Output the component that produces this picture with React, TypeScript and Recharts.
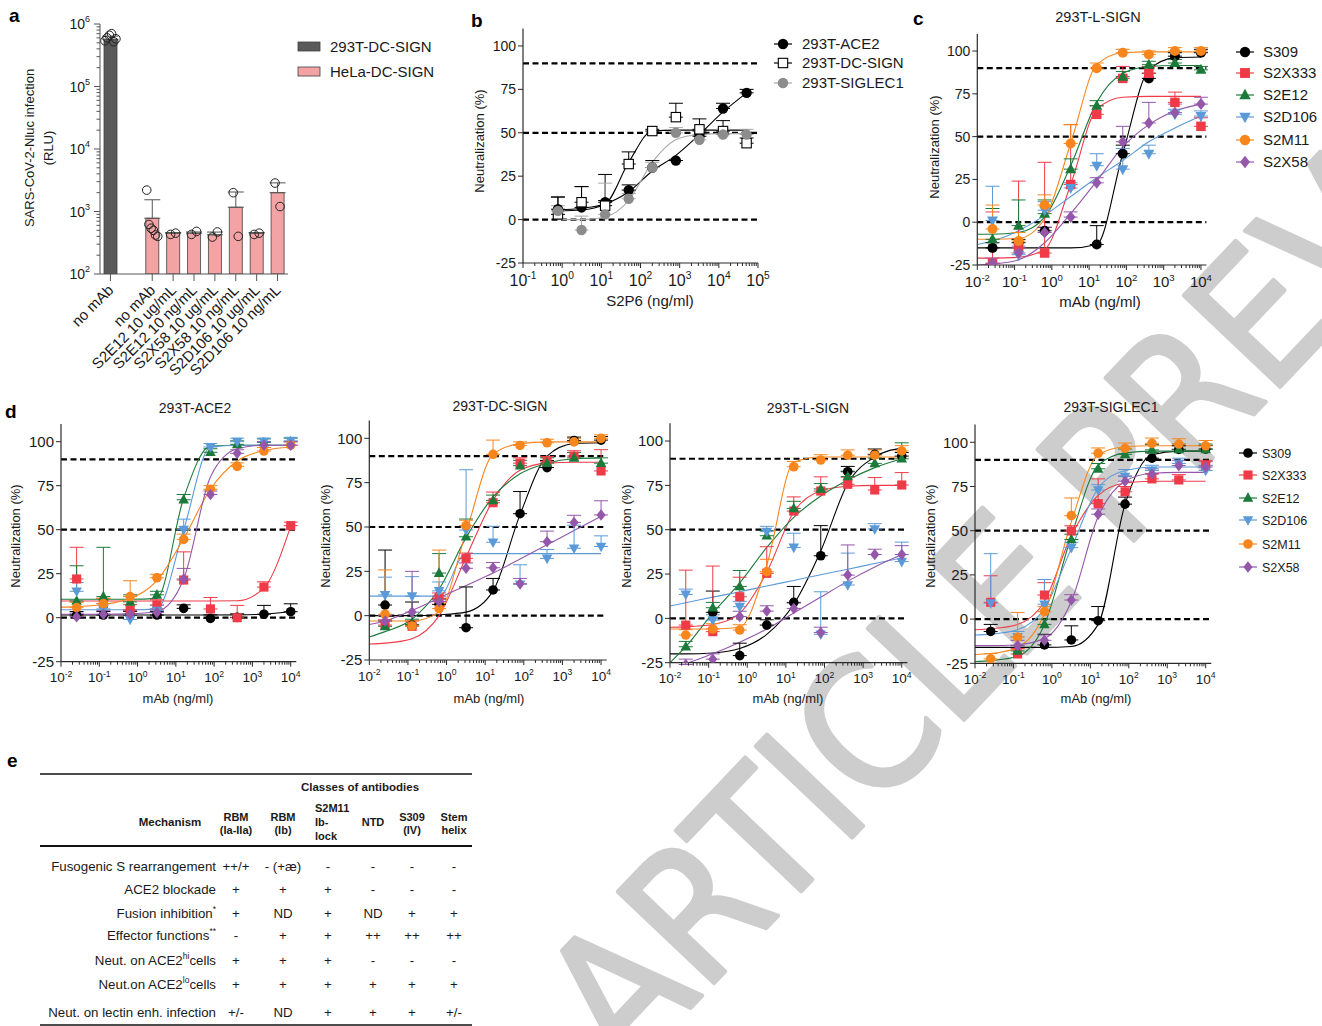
import React from 'react';
import { ComposedChart, Bar, Cell, Scatter, Line, XAxis, YAxis, ReferenceLine, ErrorBar } from 'recharts';

const FONT = 'Arial, "Liberation Sans", Helvetica, sans-serif';
const NARROW = '"Liberation Sans Narrow", "Arial Narrow", "DejaVu Sans Condensed", Arial, sans-serif';
const INK = '#1a1a1a';
const AXIS = '#2a2a2a';

// ---------------- Panel a ----------------
const A_LABELS = ['no mAb', '', 'no mAb', 'S2E12 10 ug/mL', 'S2E12 10 ng/mL', 'S2X58 10 ug/mL', 'S2X58 10 ng/mL', 'S2D106 10 ug/mL', 'S2D106 10 ng/mL'];
const A_CELLS = ['293T-DC-SIGN', '', 'HeLa-DC-SIGN', 'HeLa-DC-SIGN', 'HeLa-DC-SIGN', 'HeLa-DC-SIGN', 'HeLa-DC-SIGN', 'HeLa-DC-SIGN', 'HeLa-DC-SIGN'];
const A_MEANS = [570000, null, 780, 450, 450, 424, 1170, 450, 2000];
const A_ERR_UP = [70000, null, 760, 10, 20, 45, 880, 10, 870];
const A_REPLICATES: number[][] = [
  [540000, 600000, 660000, 700000, 520000, 580000],
  [],
  [2200, 620, 540, 500, 420, 400],
  [430, 450],
  [430, 480],
  [390, 470],
  [2000, 400],
  [430, 450],
  [2850, 1200],
];
const A_LEGEND = ['293T-DC-SIGN', 'HeLa-DC-SIGN'];
const A_COLORS: Record<string, string> = { '293T-DC-SIGN': '#5a5a5a', 'HeLa-DC-SIGN': '#f4a3a5' };

// ---------------- Panel b ----------------
const B_DOSES = [0.78, 3.125, 12.5, 50, 200, 800, 3200, 12800, 51200];
const B_NAMES = ['293T-ACE2', '293T-DC-SIGN', '293T-SIGLEC1'];
const B_MEAN = [
  [6, 7, 10, 17, 30, 34, 48, 64, 73],
  [3, 10, 8, 32, 51, 59, 52, 51, 44],
  [5, -6, 3, 12, 30, 50, 46, 49, 49],
];
const B_ERR = [
  [7, 12, 16, 3, 4, 0, 3, 3, 2],
  [10, 9, 3, 7, 1, 8, 6, 6, 3],
  [3, 8, 18, 3, 3, 3, 3, 3, 3],
];
const B_CURVE = [
  [5.5, 6.5, 9, 16, 28, 37, 49, 62, 73],
  [5, 5.5, 9, 33, 51, 51.5, 51.5, 51.5, 51.5],
  [0, 0, 1.5, 11, 33, 46, 49, 49.5, 49.5],
];

// ---------------- Panels c & d ----------------
const DOSES = [0.0256, 0.128, 0.64, 3.2, 16, 80, 400, 2000, 10000];
const CURVE_X = [0.01, 0.0256, 0.128, 0.64, 3.2, 16, 80, 400, 2000, 10000];
const ANTIBODIES = ['S309', 'S2X333', 'S2E12', 'S2D106', 'S2M11', 'S2X58'];

type N = number | null;

const C_LSIGN_MEAN: N[][] = [
  [-15, -12, -5, null, -13, 40, 84, 97, 99],
  [-24, -15, -18, 22, 63, 84, 87, 70, 56],
  [-10, -2, 5, 31, 68, 85, 92, 93, 89],
  [1, -19, 7, 20, 33, 31, 40, 63, 62],
  [-4, -11, 10, 46, 90, 99, 98, 100, 100],
  [-24, -18, -6, 3, 23, 47, 58, 64, 69],
];
const C_LSIGN_ERR = [
  [3, 2, 2, 0, 11, 5, 3, 2, 2],
  [30, 39, 53, 35, 5, 7, 4, 6, 5],
  [18, 15, 8, 6, 3, 3, 2, 2, 2],
  [20, 5, 5, 3, 7, 12, 5, 3, 3],
  [14, 5, 6, 11, 3, 2, 2, 2, 2],
  [3, 3, 3, 3, 3, 9, 12, 5, 4],
];
const C_LSIGN_CURVE = [
  [-15, -15, -15, -15, -15, -13, 40, 89, 96, 96.5],
  [-21, -21, -20.5, -16, 22, 66, 73, 73.5, 73.5, 73.5],
  [-7, -7, -6, 3, 33, 70, 87, 91, 91.5, 91.5],
  [-13, -11, -5, 4, 15, 26, 36, 47, 55, 62],
  [-10, -10, -9.5, 2, 46, 92, 99, 99.5, 99.5, 99.5],
  [-25, -24.5, -22, -12, 5, 24, 44, 57, 65, 69],
];

const D_ACE2_MEAN: N[][] = [
  [1.5, 1.5, 1.5, 1.5, 5.3, -0.4, 0.2, 2, 3.4],
  [22, 8, 4.4, 7.2, 21.4, 5, 0, 17.4, 52.3],
  [9.5, 12, 9, 13, 67, 94, 98.5, 99.6, 100],
  [15, 5, -1, 4, 50, 97, 100, 100, 100.5],
  [5.7, 8, 12, 22.7, 44.5, 73, 86, 94.7, 98],
  [0.6, 2, 2, 3, 22, 70, 93.4, 98, 98],
];
const D_ACE2_ERR = [
  [2, 2, 2, 2, 2, 2, 2, 5, 4.5],
  [18, 3, 3, 3, 16, 6.5, 7, 3, 2],
  [20, 28, 4, 2, 3, 2, 2, 2, 2],
  [5, 3, 3, 3, 6, 2, 2, 2, 2],
  [3, 3, 9, 2, 3, 2, 2, 2, 2],
  [2, 2, 2, 2, 6, 2, 2, 2, 2],
];
const D_ACE2_CURVE = [
  [1.5, 1.5, 1.5, 1.5, 1.5, 1.5, 1.5, 1.6, 2, 3.5],
  [9.5, 9.5, 9.5, 9.5, 9.5, 9.5, 9.5, 9.6, 17, 52],
  [10.5, 10.5, 10.5, 10.5, 11, 68, 97.5, 98, 98, 98],
  [4.5, 4.5, 4.5, 4.5, 5, 50, 97, 98, 98, 98],
  [6, 6.3, 7.5, 11, 21, 45, 73, 89, 95, 97],
  [2, 2, 2, 2.2, 3.5, 22, 80, 96, 98, 98],
];

const D_DCSIGN_MEAN: N[][] = [
  [6, -5.3, 6.4, -6.8, 14.5, 57.5, 83.5, 98.7, 99],
  [-5.3, -6, 9.8, 32.3, 63.7, 86, 86.8, 90, 81.6],
  [-6, -5, 24, 44.5, 65, 84.6, 86, 89, 86],
  [11.7, 11, 14, 48.3, 41.4, 17.7, 32.3, 38, 39],
  [0.8, -5.8, 4, 50.8, 91, 96, 97.5, 98, 100],
  [-3, 2, 8, 26.7, 27, 18, 41.7, 52.6, 56.8],
];
const D_DCSIGN_ERR = [
  [31, 13, 3, 23, 6.5, 12.5, 4, 2, 2],
  [3, 3, 3, 3, 6, 3, 3, 3, 12],
  [3, 3, 11, 10, 3, 3, 3, 3, 3],
  [10, 11, 5, 34, 9, 11, 5, 13, 6],
  [25, 3, 33, 3, 8, 2, 2, 2, 2],
  [3, 23, 3, 3, 3, 3, 6, 4, 8],
];
const D_DCSIGN_CURVE = [
  [0, 0, 0, 0.5, 2, 14, 57, 90, 97, 97.5],
  [-16, -15.5, -13, 0, 33, 65, 82, 86, 86.5, 86.5],
  [-12, -9, -2, 15, 44, 67, 80, 86, 88.5, 89],
  [11, 11, 11, 11, 35, 35, 35, 35, 35, 35],
  [-3, -3, -3, 2, 47, 91, 97, 98, 98, 98],
  [-5, -3, 3, 10, 17, 24, 32, 40, 48, 56],
];

const D_LSIGN_MEAN: N[][] = [
  [null, 3.4, -21, -3.8, 9, 35.3, 82.7, 92.5, 91.5],
  [-3.8, -7.5, 12.2, 25.4, 60.5, 71.8, 75.6, 72.4, 75.2],
  [-16, 6, 18, 46.6, 62, 73, 80, 87.4, 90],
  [13.5, -1, 6.6, 48.9, 40, -9, 18.8, 50.4, 32],
  [-9.4, -6, -6.6, 26.3, 85.5, 89.3, 92, 92, 94.4],
  [-26, -23, 1, 4.1, 5.6, -8, 24.4, 36, 36],
];
const D_LSIGN_ERR = [
  [0, 12, 7, 3, 9, 17, 3, 3, 2],
  [31, 37, 11, 15, 8, 8, 4, 7, 7],
  [3, 3, 9, 3, 4, 3, 3, 3, 9],
  [3, 3, 3, 3, 8, 24, 18, 3, 11],
  [3, 3, 3, 7, 3, 3, 3, 3, 3],
  [3, 3, 3, 3, 3, 3, 17, 3, 5],
];
const D_LSIGN_CURVE = [
  [-20, -20, -19.5, -17, -9, 8, 38, 76, 91, 96],
  [-5, -4.8, -3.5, 3, 26, 60, 72, 74.5, 75, 75],
  [-25, -16, 3, 20, 40, 57, 69, 78, 85, 90],
  [7, 8.8, 12, 15, 18.3, 21.4, 24.6, 27.7, 30.9, 34],
  [-6, -6, -6, -5, 30, 88, 91, 91, 91, 91],
  [-28, -25.5, -20, -13.5, -6, 3, 12, 21, 29, 36],
];

const D_SIGLEC1_MEAN: N[][] = [
  [-7, null, -14.6, -11.8, -0.9, 65, 91, 96, 96.2],
  [9.5, -19.7, 13.6, 49.8, 65.3, 72, 79.3, 78.7, 86.8],
  [null, -18, -3, 45, 85, 93.2, 95.7, 96, 96],
  [9, -10, 8.4, 40.4, 73, 80.6, 84, 88, 84],
  [-22.5, -10.3, 4.2, 58.5, 93.8, 96.6, 99.4, 99, 98],
  [null, -15, -12, 10.8, 59.3, 78, 82, 86.8, 86],
];
const D_SIGLEC1_ERR = [
  [4, 0, 6, 8, 8, 4, 3, 2, 2],
  [15, 3, 7, 3, 14, 3, 3, 3, 3],
  [0, 3, 3, 3, 3, 3, 3, 3, 3],
  [28, 3, 14, 3, 3, 4, 3, 3, 3],
  [3, 14, 3, 10, 3, 3, 3, 3, 3],
  [0, 3, 3, 3, 3, 3, 3, 3, 3],
];
const D_SIGLEC1_CURVE = [
  [-16, -16, -16, -16, -15.5, -3, 65, 93, 95, 95],
  [-6, -5.5, -3, 10, 47, 70, 77, 78, 78, 78],
  [-24, -23.5, -21, -3, 47, 87, 94, 95, 95, 95],
  [-9, -8.5, -6, 6, 40, 74, 84, 86, 86, 86],
  [-20, -19.5, -16, 3, 55, 93, 97.5, 98, 98, 98],
  [-15, -15, -14.5, -11, 10, 58, 78, 82.5, 83, 83],
];

// ---------------- Panel e (table) ----------------
const E_COLUMNS = [['RBM', '(Ia-IIa)'], ['RBM', '(Ib)'], ['S2M11', 'Ib-', 'lock'], ['NTD'], ['S309', '(IV)'], ['Stem', 'helix']];
const E_ROWS = ['Fusogenic S rearrangement', 'ACE2 blockade', 'Fusion inhibition', 'Effector functions', 'Neut. on ACE2', 'Neut.on ACE2', 'Neut. on lectin enh. infection'];
const E_ROW_SUP = ['', '', '*', '**', 'hi', 'lo', ''];
const E_ROW_TAIL = ['', '', '', '', 'cells', 'cells', ''];
const E_CELLS = [
  ['++/+', '- (+æ)', '-', '-', '-', '-'],
  ['+', '+', '+', '-', '-', '-'],
  ['+', 'ND', '+', 'ND', '+', '+'],
  ['-', '+', '+', '++', '++', '++'],
  ['+', '+', '+', '-', '-', '-'],
  ['+', '+', '+', '+', '+', '+'],
  ['+/-', 'ND', '+', '+', '+', '+/-'],
];

const WATERMARK = 'ARTICLE PREVIEW';

// ---------------- styles ----------------
type Kind = 'circle' | 'square' | 'triUp' | 'triDown' | 'diamond' | 'openSquare';
const AB_STYLE: { color: string; kind: Kind }[] = [
  { color: '#000000', kind: 'circle' },
  { color: '#ef3b47', kind: 'square' },
  { color: '#1b7a3a', kind: 'triUp' },
  { color: '#5b9ad8', kind: 'triDown' },
  { color: '#f7861d', kind: 'circle' },
  { color: '#9457aa', kind: 'diamond' },
];
const B_STYLE: { color: string; kind: Kind; line: string }[] = [
  { color: '#000000', kind: 'circle', line: '#000000' },
  { color: '#000000', kind: 'openSquare', line: '#000000' },
  { color: '#8c8c8c', kind: 'circle', line: '#a8a8a8' },
];

function Marker({ kind, cx, cy, r, color }: { kind: Kind; cx: number; cy: number; r: number; color: string }) {
  if (cx == null || cy == null || isNaN(cx) || isNaN(cy)) return null;
  switch (kind) {
    case 'circle':
      return <circle cx={cx} cy={cy} r={r} fill={color} />;
    case 'square':
      return <rect x={cx - r * 0.95} y={cy - r * 0.95} width={r * 1.9} height={r * 1.9} fill={color} />;
    case 'openSquare':
      return <rect x={cx - r * 0.9} y={cy - r * 0.9} width={r * 1.8} height={r * 1.8} fill="#fff" stroke={color} strokeWidth={1.1} />;
    case 'triUp':
      return <polygon points={`${cx},${cy - r * 1.2} ${cx - r * 1.1},${cy + r * 0.8} ${cx + r * 1.1},${cy + r * 0.8}`} fill={color} />;
    case 'triDown':
      return <polygon points={`${cx},${cy + r * 1.2} ${cx - r * 1.1},${cy - r * 0.8} ${cx + r * 1.1},${cy - r * 0.8}`} fill={color} />;
    case 'diamond':
      return <polygon points={`${cx},${cy - r * 1.2} ${cx + r * 0.95},${cy} ${cx},${cy + r * 1.2} ${cx - r * 0.95},${cy}`} fill={color} />;
  }
  return null;
}

function logTicks(lo: number, hi: number) {
  const out: number[] = [];
  for (let e = lo; e <= hi; e++) {
    out.push(Number((10 ** e).toPrecision(6)));
    if (e < hi) for (let m = 2; m <= 9; m++) out.push(Number((m * 10 ** e).toPrecision(6)));
  }
  return out;
}
const isMajor = (v: number) => Math.abs(Math.log10(v) - Math.round(Math.log10(v))) < 1e-6;

const XLogTick = (props: any) => {
  const { x, y, payload, fs = 14 } = props;
  const v = payload.value;
  const major = isMajor(v);
  const e = Math.round(Math.log10(v));
  return (
    <g>
      <line x1={x} x2={x} y1={y} y2={y + (major ? 5 : 3)} stroke={AXIS} strokeWidth={1} />
      {major && (
        <text x={x} y={y + fs + 7} textAnchor="middle" fontSize={fs} fill={INK}>
          10<tspan dy={-fs * 0.42} fontSize={fs * 0.64}>{String(e)}</tspan>
        </text>
      )}
    </g>
  );
};

const YLinTick = (props: any) => {
  const { x, y, payload, fs = 14 } = props;
  return (
    <g>
      <line x1={x - 5} x2={x} y1={y} y2={y} stroke={AXIS} strokeWidth={1} />
      <text x={x - 7} y={y + fs * 0.36} textAnchor="end" fontSize={fs} fill={INK}>{payload.value}</text>
    </g>
  );
};

const ALogYTick = (props: any) => {
  const { x, y, payload } = props;
  const v = payload.value;
  const major = isMajor(v);
  const e = Math.round(Math.log10(v));
  return (
    <g>
      <line x1={x - (major ? 6 : 3.5)} x2={x} y1={y} y2={y} stroke="#555" strokeWidth={1} />
      {major && (
        <text x={x - 10} y={y + 5} textAnchor="end" fontSize={14} fill={INK}>
          10<tspan dy={-7} fontSize={9}>{String(e)}</tspan>
        </text>
      )}
    </g>
  );
};

const A_ROWS = A_LABELS.map((label, i) => ({
  id: 'c' + i,
  label,
  cell: A_CELLS[i],
  v: A_MEANS[i],
  e: A_ERR_UP[i] == null ? undefined : [0, A_ERR_UP[i] as number],
}));
const A_LABEL_BY_ID: Record<string, string> = Object.fromEntries(A_ROWS.map((r) => [r.id, r.label]));
const A_REP_POINTS = A_REPLICATES.flatMap((reps, i) => reps.map((y, k) => ({ id: 'c' + i, y, k, n: reps.length })));

const ACatTick = (props: any) => {
  const { x, y, payload } = props;
  const label = A_LABEL_BY_ID[payload.value];
  if (!label) return null;
  const tx = x + 4;
  const ty = y + 17;
  return (
    <g>
      <line x1={x} x2={x} y1={y} y2={y + 7} stroke="#555" strokeWidth={1} />
      <text x={tx} y={ty} textAnchor="end" fontSize={15} fill={INK} transform={`rotate(-45, ${tx}, ${ty})`}>{label}</text>
    </g>
  );
};

const OpenCircle = (props: any) => {
  const { cx, cy, payload } = props;
  if (cx == null || cy == null) return null;
  const off = payload.n > 1 ? (payload.k - (payload.n - 1) / 2) * (payload.n > 2 ? 2.2 : 5) : 0;
  return <circle cx={cx + off} cy={cy} r={4.3} fill="none" stroke="#222" strokeWidth={1} />;
};

function PanelA() {
  const box = { left: 0, top: 0, width: 300, height: 390 };
  const plot = { x0: 100, x1: 288, y0: 24, y1: 274 };
  const yw = 60;
  const xh = 100;
  const margin = { left: plot.x0 - box.left - yw, top: plot.y0 - box.top, right: box.left + box.width - plot.x1, bottom: box.top + box.height - plot.y1 - xh };
  return (
    <div style={{ position: 'absolute', left: box.left, top: box.top }}>
      <ComposedChart width={box.width} height={box.height} data={A_ROWS} margin={margin} barCategoryGap={0}>
        <XAxis dataKey="id" type="category" allowDuplicatedCategory={false} interval={0} tickSize={0} tickMargin={0} tick={<ACatTick />} height={xh} axisLine={{ stroke: '#555', strokeWidth: 1 }} />
        <YAxis type="number" scale="log" domain={[100, 1000000]} allowDataOverflow ticks={logTicks(2, 6)} interval={0} tickSize={0} tickMargin={0} tick={<ALogYTick />} width={yw} axisLine={{ stroke: '#555', strokeWidth: 1 }} />
        <Bar dataKey="v" barSize={13} stroke="#404040" strokeWidth={0.8} isAnimationActive={false}>
          {A_ROWS.map((r) => (
            <Cell key={r.id} fill={A_COLORS[r.cell] || '#fff'} />
          ))}
          <ErrorBar dataKey="e" direction="y" width={8} stroke="#555" strokeWidth={1} />
        </Bar>
        <Scatter data={A_REP_POINTS} dataKey="y" shape={<OpenCircle />} isAnimationActive={false} />
      </ComposedChart>
    </div>
  );
}

type DoseSeries = { key: string; color: string; line: string; kind: Kind; mean: N[]; err: number[]; curve: N[] };

function DoseChart({ box, plot, xDomain, xTicks, doses, curveX, series, r, xfs, yfs }: any) {
  const yw = 50;
  const xh = 45;
  const margin = { left: plot.x0 - box.left - yw, top: plot.y0 - box.top, right: box.left + box.width - plot.x1, bottom: box.top + box.height - plot.y1 - xh };
  return (
    <div style={{ position: 'absolute', left: box.left, top: box.top }}>
      <ComposedChart width={box.width} height={box.height} margin={margin}>
        <XAxis dataKey="x" type="number" scale="log" domain={xDomain} allowDataOverflow ticks={xTicks} interval={0} tickSize={0} tickMargin={0} tick={<XLogTick fs={xfs} />} height={xh} axisLine={{ stroke: AXIS, strokeWidth: 1.2 }} />
        <YAxis type="number" domain={[-25, 110]} allowDataOverflow ticks={[-25, 0, 25, 50, 75, 100]} interval={0} tickSize={0} tickMargin={0} tick={<YLinTick fs={yfs} />} width={yw} axisLine={{ stroke: AXIS, strokeWidth: 1.2 }} />
        {[90, 50, 0].map((lv) => (
          <ReferenceLine key={lv} y={lv} stroke="#000" strokeWidth={2.2} strokeDasharray="6 3.5" />
        ))}
        {(series as DoseSeries[]).map((s) => (
          <Line
            key={'l' + s.key}
            data={curveX.map((x: number, i: number) => ({ x, y: s.curve[i] })).filter((p: any) => p.y != null)}
            dataKey="y"
            type="monotone"
            stroke={s.line}
            strokeWidth={1.1}
            dot={false}
            activeDot={false}
            isAnimationActive={false}
          />
        ))}
        {(series as DoseSeries[]).map((s) => (
          <Scatter
            key={'s' + s.key}
            data={doses.map((x: number, i: number) => ({ x, y: s.mean[i], e: [0, s.err[i]] })).filter((p: any) => p.y != null)}
            dataKey="y"
            isAnimationActive={false}
            shape={(p: any) => <Marker kind={s.kind} cx={p.cx} cy={p.cy} r={r} color={s.color} />}
          >
            <ErrorBar dataKey="e" direction="y" width={7} stroke={s.line} strokeWidth={1} />
          </Scatter>
        ))}
      </ComposedChart>
    </div>
  );
}

const abSeries = (mean: N[][], err: number[][], curve: N[][]): DoseSeries[] =>
  ANTIBODIES.map((name, i) => ({ key: name, color: AB_STYLE[i].color, line: AB_STYLE[i].color, kind: AB_STYLE[i].kind, mean: mean[i], err: err[i], curve: curve[i] }));

const bSeries: DoseSeries[] = B_NAMES.map((name, i) => ({ key: name, color: B_STYLE[i].color, line: B_STYLE[i].line, kind: B_STYLE[i].kind, mean: B_MEAN[i], err: B_ERR[i], curve: B_CURVE[i] }));

const X_TICKS_CD = logTicks(-2, 4);
const X_TICKS_B = logTicks(-1, 5);

const D_PANELS = [
  { title: '293T-ACE2', box: { left: 0, top: 400, width: 310, height: 310 }, plot: { x0: 61, x1: 296.3, y0: 424.1, y1: 661.7 }, mean: D_ACE2_MEAN, err: D_ACE2_ERR, curve: D_ACE2_CURVE, tx: 195, ty: 413, ylx: 15, xlx: 178 },
  { title: '293T-DC-SIGN', box: { left: 305, top: 400, width: 310, height: 310 }, plot: { x0: 369.3, x1: 606.7, y0: 420.6, y1: 660 }, mean: D_DCSIGN_MEAN, err: D_DCSIGN_ERR, curve: D_DCSIGN_CURVE, tx: 500, ty: 411, ylx: 325, xlx: 489 },
  { title: '293T-L-SIGN', box: { left: 610, top: 400, width: 310, height: 310 }, plot: { x0: 670, x1: 907.4, y0: 423.3, y1: 662.7 }, mean: D_LSIGN_MEAN, err: D_LSIGN_ERR, curve: D_LSIGN_CURVE, tx: 808, ty: 413, ylx: 626, xlx: 788 },
  { title: '293T-SIGLEC1', box: { left: 915, top: 400, width: 310, height: 310 }, plot: { x0: 975, x1: 1211.3, y0: 424.6, y1: 663.3 }, mean: D_SIGLEC1_MEAN, err: D_SIGLEC1_ERR, curve: D_SIGLEC1_CURVE, tx: 1111, ty: 412, ylx: 930, xlx: 1096 },
];

function YTitle({ cx, cy, text, fs }: { cx: number; cy: number; text: string; fs: number }) {
  const bx = cx + fs * 0.36;
  return (
    <text x={bx} y={cy} textAnchor="middle" fontSize={fs} fill={INK} transform={`rotate(-90, ${bx}, ${cy})`}>{text}</text>
  );
}

function LegendRows({ items, mx, tx, ys, fs, r }: { items: { name: string; color: string; line: string; kind: Kind }[]; mx: number; tx: number; ys: number[]; fs: number; r: number }) {
  return (
    <g>
      {items.map((it, i) => (
        <g key={it.name}>
          <line x1={mx - 9} x2={mx + 9} y1={ys[i]} y2={ys[i]} stroke={it.line} strokeWidth={1.2} />
          <Marker kind={it.kind} cx={mx} cy={ys[i]} r={r} color={it.color} />
          <text x={tx} y={ys[i] + fs * 0.36} fontSize={fs} fill={INK}>{it.name}</text>
        </g>
      ))}
    </g>
  );
}

function Table() {
  const colX = [236, 283, 328, 373, 412, 454];
  const rowY = [871, 893.5, 917.5, 940, 964.5, 989, 1017];
  const headBase: number[][] = [[821, 834], [821, 834], [812, 826, 840], [826], [821, 834], [821, 834]];
  return (
    <g fill={INK}>
      <line x1={40} x2={472} y1={774} y2={774} stroke="#111" strokeWidth={1.6} />
      <text x={360} y={791} textAnchor="middle" fontSize={11.5} fontWeight="bold">Classes of antibodies</text>
      <text x={170} y={826} textAnchor="middle" fontSize={11.5} fontWeight="bold">Mechanism</text>
      {E_COLUMNS.map((lines, ci) =>
        lines.map((t, li) =>
          ci === 2 ? (
            <text key={ci + '-' + li} x={315} y={headBase[ci][li]} fontSize={11} fontWeight="bold">{t}</text>
          ) : (
            <text key={ci + '-' + li} x={colX[ci]} y={headBase[ci][li]} textAnchor="middle" fontSize={11} fontWeight="bold">{t}</text>
          )
        )
      )}
      <line x1={40} x2={472} y1={846} y2={846} stroke="#111" strokeWidth={1.8} />
      {E_ROWS.map((label, ri) => (
        <text key={'r' + ri} x={216} y={rowY[ri]} textAnchor="end" fontSize={13.3}>
          {label}
          {E_ROW_SUP[ri] && <tspan dy={-6} fontSize={8.5}>{E_ROW_SUP[ri]}</tspan>}
          {E_ROW_TAIL[ri] && <tspan dy={6}>{E_ROW_TAIL[ri]}</tspan>}
        </text>
      ))}
      {E_CELLS.map((row, ri) =>
        row.map((v, ci) => (
          <text key={ri + '_' + ci} x={colX[ci]} y={rowY[ri]} textAnchor="middle" fontSize={13.3}>{v}</text>
        ))
      )}
      <line x1={40} x2={472} y1={1025} y2={1025} stroke="#111" strokeWidth={1.6} />
    </g>
  );
}

export default function App() {
  const abLegend = ANTIBODIES.map((name, i) => ({ name, color: AB_STYLE[i].color, line: AB_STYLE[i].color, kind: AB_STYLE[i].kind }));
  const bLegend = B_NAMES.map((name, i) => ({ name, color: B_STYLE[i].color, line: B_STYLE[i].line, kind: B_STYLE[i].kind }));
  return (
    <div style={{ position: 'absolute', left: 0, top: 0, width: 1322, height: 1026, background: '#fff', fontFamily: FONT, overflow: 'hidden' }}>
      <svg width={1322} height={1026} style={{ position: 'absolute', left: 0, top: 0 }}>
        <text x={0} y={0} fontSize={182} fill="#cdcdcd" stroke="#cdcdcd" strokeWidth={4} strokeLinejoin="round" transform="translate(626, 1076) rotate(-46.5)" fontFamily={NARROW}>{WATERMARK}</text>
      </svg>

      <PanelA />
      <DoseChart box={{ left: 460, top: 0, width: 320, height: 320 }} plot={{ x0: 523, x1: 758, y0: 28.6, y1: 263 }} xDomain={[0.1, 100000]} xTicks={X_TICKS_B} doses={B_DOSES} curveX={B_DOSES} series={bSeries} r={5.2} xfs={16} yfs={14} />
      <DoseChart box={{ left: 910, top: 0, width: 320, height: 320 }} plot={{ x0: 977.3, x1: 1206.4, y0: 33.9, y1: 265 }} xDomain={[0.01, 14000]} xTicks={X_TICKS_CD} doses={DOSES} curveX={CURVE_X} series={abSeries(C_LSIGN_MEAN, C_LSIGN_ERR, C_LSIGN_CURVE)} r={5} xfs={15} yfs={14} />
      {D_PANELS.map((p) => (
        <DoseChart key={p.title} box={p.box} plot={p.plot} xDomain={[0.01, 14000]} xTicks={X_TICKS_CD} doses={DOSES} curveX={CURVE_X} series={abSeries(p.mean, p.err, p.curve)} r={4.8} xfs={13.5} yfs={15} />
      ))}

      <svg width={1322} height={1026} style={{ position: 'absolute', left: 0, top: 0, pointerEvents: 'none' }} fontFamily={FONT}>
        <g fontWeight="bold" fontSize={19} fill="#000">
          <text x={9} y={22}>a</text>
          <text x={471} y={27}>b</text>
          <text x={913} y={25}>c</text>
          <text x={5} y={418}>d</text>
          <text x={7} y={767}>e</text>
        </g>

        <YTitle cx={29} cy={148} text="SARS-CoV-2-Nluc infection" fs={13} />
        <YTitle cx={48} cy={148} text="(RLU)" fs={13} />
        {A_LEGEND.map((name, i) => (
          <g key={name}>
            <rect x={298} y={42 + i * 25} width={22} height={9} fill={A_COLORS[name]} stroke="#404040" strokeWidth={0.8} />
            <text x={330} y={52 + i * 25} fontSize={15} fill={INK}>{name}</text>
          </g>
        ))}

        <YTitle cx={479} cy={141} text="Neutralization (%)" fs={13} />
        <text x={650} y={306} textAnchor="middle" fontSize={15} fill={INK}>S2P6 (ng/ml)</text>
        <LegendRows items={bLegend} mx={783} tx={802} ys={[44, 63, 83]} fs={15} r={5.2} />

        <text x={1098} y={22} textAnchor="middle" fontSize={14.5} fill={INK}>293T-L-SIGN</text>
        <YTitle cx={934} cy={147} text="Neutralization (%)" fs={13} />
        <text x={1100} y={307} textAnchor="middle" fontSize={15} fill={INK}>mAb (ng/ml)</text>
        <LegendRows items={abLegend} mx={1245} tx={1263} ys={[52, 73, 95, 117, 140, 162]} fs={15} r={5.2} />

        {D_PANELS.map((p) => (
          <g key={p.title}>
            <text x={p.tx} y={p.ty} textAnchor="middle" fontSize={14} fill={INK}>{p.title}</text>
            <YTitle cx={p.ylx} cy={536} text="Neutralization (%)" fs={13} />
            <text x={p.xlx} y={703} textAnchor="middle" fontSize={13} fill={INK}>mAb (ng/ml)</text>
          </g>
        ))}
        <LegendRows items={abLegend} mx={1248} tx={1262} ys={[453, 475, 498, 520, 544, 567]} fs={12.5} r={4.8} />

        <Table />
      </svg>
    </div>
  );
}
